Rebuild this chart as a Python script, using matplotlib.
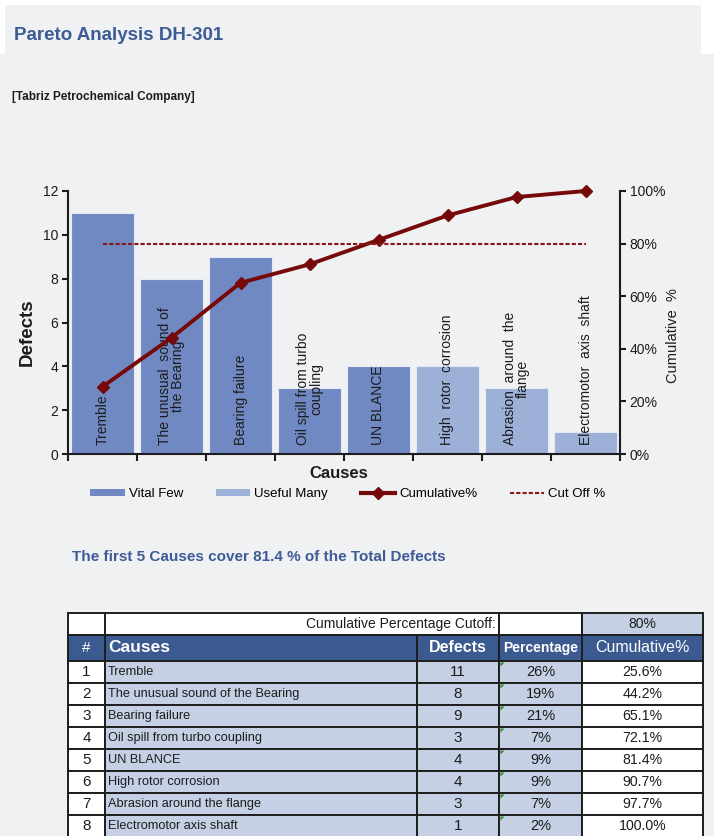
import numpy as np
import matplotlib.pyplot as plt
from matplotlib.patches import Rectangle, Polygon, Patch
from matplotlib.lines import Line2D

plt.rcParams['font.family'] = ['Liberation Sans', 'DejaVu Sans']

causes = ["Tremble", "The unusual sound of the Bearing", "Bearing failure",
          "Oil spill from turbo coupling", "UN BLANCE", "High rotor corrosion",
          "Abrasion around the flange", "Electromotor axis shaft"]
bar_labels = ["Tremble", "The unusual  sound of\nthe Bearing", "Bearing failure",
              "Oil spill from turbo\ncoupling", "UN BLANCE", "High  rotor  corrosion",
              "Abrasion  around  the\nflange", "Electromotor  axis  shaft"]
defects = [11, 8, 9, 3, 4, 4, 3, 1]
percent_labels = ["26%", "19%", "21%", "7%", "9%", "9%", "7%", "2%"]
cumulative = [25.6, 44.2, 65.1, 72.1, 81.4, 90.7, 97.7, 100.0]
cutoff = 80
vital_count = 5
defect_ticks = [0, 2, 4, 6, 8, 10, 12]
cum_ticks = [0, 20, 40, 60, 80, 100]

VITAL = '#7089c3'
USEFUL = '#9cb0d8'
LINE = '#760a0a'
CUT = '#8a1818'
BLUE_TXT = '#3d5b95'
HEADER = '#3b5a8f'
CELL = '#c6d0e4'
BG = '#f0f1f3'
INK = '#1c1c1c'

W, H = 714, 836
fig = plt.figure(figsize=(W / 100, H / 100), dpi=100, facecolor='white')

# page background, titles and the table are drawn in pixel coordinates
bg = fig.add_axes([0, 0, 1, 1])
bg.set_xlim(0, W)
bg.set_ylim(H, 0)
bg.axis('off')
bg.add_patch(Rectangle((0, 54), W, H - 54, color=BG, lw=0))
bg.add_patch(Rectangle((5, 5), 696, 49, color=BG, lw=0))

bg.text(14, 35, "Pareto Analysis DH-301", fontsize=13.5, fontweight='bold',
        color=BLUE_TXT, va='center')
bg.text(12, 97, "[Tabriz Petrochemical Company]", fontsize=8.5, fontweight='bold',
        color=INK, va='center')
bg.text(27, 332, "Defects", fontsize=13.5, fontweight='bold', rotation=90,
        ha='center', va='center', color=INK)
bg.text(673, 336, "Cumulative  %", fontsize=10.5, rotation=90,
        ha='center', va='center', color=INK)
bg.text(339, 473, "Causes", fontsize=12, fontweight='bold',
        ha='center', va='center', color=INK)
bg.text(72, 557, f"The first {vital_count} Causes cover {cumulative[vital_count - 1]} % of the Total Defects",
        fontsize=11, fontweight='bold', color=BLUE_TXT, va='center')

# chart
ax = fig.add_axes([68 / W, 1 - 454 / H, 552 / W, 263 / H])
ax.set_facecolor('none')
x = np.arange(len(defects))
colors = [VITAL if i < vital_count else USEFUL for i in x]
ax.bar(x, defects, width=0.9, color=colors, edgecolor='#e4e9f3', linewidth=0.8)
ax.set_xlim(-0.5, len(defects) - 0.5)
ax.set_ylim(0, 12)
ax.set_yticks(defect_ticks)
ax.set_xticks([])
ax.set_xticks(np.arange(-0.5, len(defects)), minor=True)
ax.tick_params(axis='x', which='minor', length=5, width=1.5, color=INK)
ax.tick_params(axis='y', length=4, width=1.5, color=INK, labelsize=10,
               labelcolor=INK, pad=3)
for s in ['top', 'right']:
    ax.spines[s].set_visible(False)
for s in ['left', 'bottom']:
    ax.spines[s].set_color(INK)
    ax.spines[s].set_linewidth(1.5)

for i, lab in enumerate(bar_labels):
    ax.text(i, 0.4, lab, rotation=90, ha='center', va='bottom', fontsize=10,
            linespacing=0.95, multialignment='center', color=INK)

ax2 = ax.twinx()
ax2.set_ylim(0, 100)
ax2.set_yticks(cum_ticks)
ax2.set_yticklabels([f"{t}%" for t in cum_ticks])
ax2.plot(x, cumulative, color=LINE, lw=2.8, marker='D', ms=6.5, clip_on=False)
ax2.plot([x[0], x[-1]], [cutoff, cutoff], color=CUT, lw=1.5, ls=(0, (2, 1)))
for s in ['top', 'left', 'bottom']:
    ax2.spines[s].set_visible(False)
ax2.spines['right'].set_color(INK)
ax2.spines['right'].set_linewidth(1.5)
ax2.tick_params(axis='y', length=4, width=1.5, color=INK, labelsize=10,
                labelcolor=INK, pad=3)

handles = [Patch(facecolor=VITAL), Patch(facecolor=USEFUL),
           Line2D([], [], color=LINE, lw=3, marker='D', ms=6),
           Line2D([], [], color=CUT, lw=1.5, ls=(0, (2, 1)))]
fig.legend(handles, ["Vital Few", "Useful Many", "Cumulative%", "Cut Off %"],
           ncol=4, loc='center', bbox_to_anchor=(348 / W, 1 - 494 / H),
           frameon=False, fontsize=9.5, handlelength=2.6, handleheight=0.45,
           handletextpad=0.3, columnspacing=2.5)

# table
cols = [68, 105, 417, 499, 582, 703]
edge = dict(edgecolor='#1e1e1e', lw=1.4)


def cell(x0, x1, y0, y1, fc):
    bg.add_patch(Rectangle((x0, y0), x1 - x0, y1 - y0, facecolor=fc, **edge))


def tt(x0, y0, s, size, **kw):
    kw.setdefault('va', 'center')
    kw.setdefault('color', INK)
    bg.text(x0, y0, s, fontsize=size, **kw)


# cutoff row
cell(cols[0], cols[1], 613, 635, 'white')
cell(cols[1], cols[3], 613, 635, 'white')
cell(cols[3], cols[4], 613, 635, 'white')
cell(cols[4], cols[5], 613, 635, CELL)
tt(cols[3] - 3, 624, "Cumulative Percentage Cutoff:", 10, ha='right')
tt((cols[4] + cols[5]) / 2, 624, f"{cutoff}%", 10, ha='center')

# header row
for c in range(5):
    cell(cols[c], cols[c + 1], 635, 661, HEADER)
hy = 648
tt((cols[0] + cols[1]) / 2, hy, "#", 11, color='white', ha='center')
tt(cols[1] + 3, hy, "Causes", 12.5, fontweight='bold', color='white')
tt((cols[2] + cols[3]) / 2, hy, "Defects", 11.5, fontweight='bold', color='white', ha='center')
tt((cols[3] + cols[4]) / 2, hy, "Percentage", 10, fontweight='bold', color='white', ha='center')
tt((cols[4] + cols[5]) / 2, hy, "Cumulative%", 11.5, color='white', ha='center')

# data rows
row_h = 22
fills = ['white', CELL, CELL, CELL, 'white']
for r in range(len(causes)):
    y0 = 661 + r * row_h
    y1 = y0 + row_h
    for c in range(5):
        cell(cols[c], cols[c + 1], y0, y1, fills[c])
    yc = y0 + row_h / 2
    tt((cols[0] + cols[1]) / 2, yc, str(r + 1), 11, ha='center')
    tt(cols[1] + 3, yc, causes[r], 9.2)
    tt((cols[2] + cols[3]) / 2, yc, str(defects[r]), 11, ha='center')
    tt((cols[3] + cols[4]) / 2, yc, percent_labels[r], 10.5, ha='center')
    tt((cols[4] + cols[5]) / 2, yc, f"{cumulative[r]:.1f}%", 10.2, ha='center')
    bg.add_patch(Polygon([(cols[3] + 1.5, y0 + 1.5), (cols[3] + 5.5, y0 + 1.5), (cols[3] + 1.5, y0 + 5.5)],
                         closed=True, color='#2a8a2a', lw=0))

fig.savefig('out.png', dpi=100, facecolor=fig.get_facecolor())
